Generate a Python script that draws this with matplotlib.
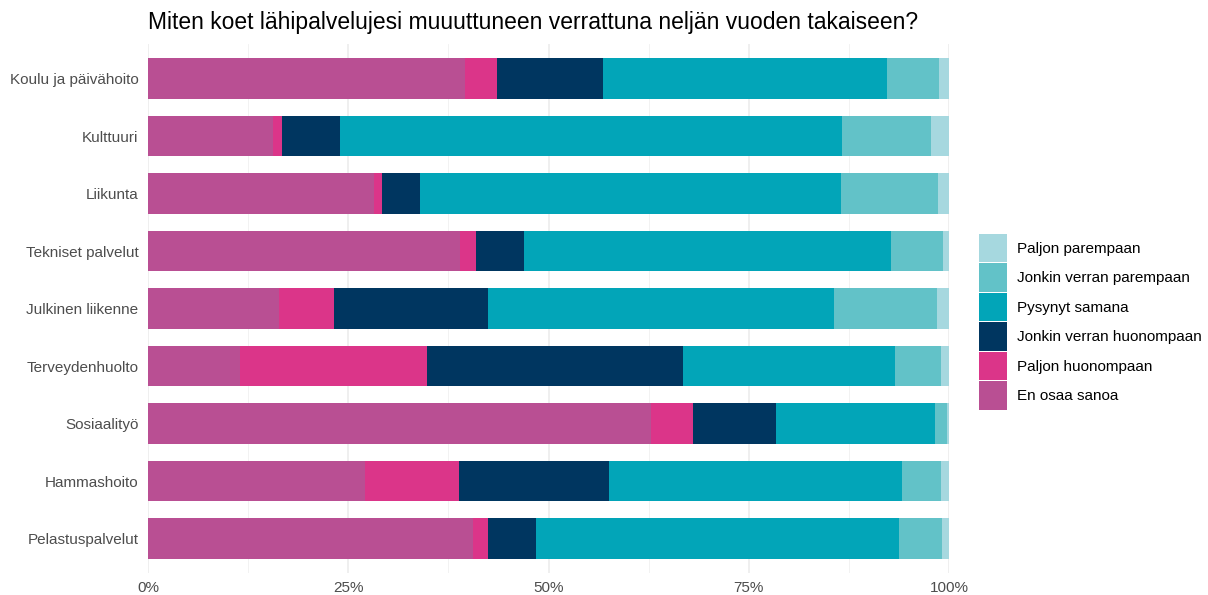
import numpy as np
import matplotlib
matplotlib.use("Agg")
import matplotlib.pyplot as plt
from matplotlib.patches import Patch

plt.rcParams['font.family'] = ['Liberation Sans', 'DejaVu Sans']

categories = ["Koulu ja päivähoito", "Kulttuuri", "Liikunta", "Tekniset palvelut",
              "Julkinen liikenne", "Terveydenhuolto", "Sosiaalityö", "Hammashoito",
              "Pelastuspalvelut"]

# stacked left to right
responses = ["En osaa sanoa", "Paljon huonompaan", "Jonkin verran huonompaan",
             "Pysynyt samana", "Jonkin verran parempaan", "Paljon parempaan"]

en_osaa = [39.6, 15.6, 28.2, 38.9, 16.4, 11.5, 62.8, 27.1, 40.6]
paljon_huon = [4.0, 1.1, 1.0, 2.0, 6.8, 23.3, 5.2, 11.7, 1.8]
jonkin_huon = [13.2, 7.3, 4.7, 6.0, 19.2, 32.0, 10.4, 18.7, 6.1]
pysynyt = [35.5, 62.6, 52.6, 45.8, 43.3, 26.5, 19.8, 36.6, 45.3]
jonkin_par = [6.5, 11.2, 12.1, 6.5, 12.8, 5.7, 1.5, 4.9, 5.3]
paljon_par = [1.2, 2.2, 1.4, 0.8, 1.5, 1.0, 0.3, 1.0, 0.9]

colors = ["#B94F93", "#DB3589", "#003660", "#02A5B8", "#62C2C8", "#A6D8DF"]

series = [en_osaa, paljon_huon, jonkin_huon, pysynyt, jonkin_par, paljon_par]

fig = plt.figure(figsize=(12.08, 5.95), dpi=100)
ax = fig.add_axes([148 / 1208, 1 - 573 / 595, (949 - 148) / 1208, (573 - 44) / 595])

y = np.arange(len(categories))
left = np.zeros(len(categories))
for vals, col in zip(series, colors):
    vals = np.array(vals)
    ax.barh(y, vals, left=left, height=0.71, color=col, linewidth=0, zorder=2)
    left += vals

ax.set_xlim(0, 100)
ax.set_ylim(len(categories) - 0.4, -0.6)
ax.set_yticks(y)
ax.set_yticklabels(categories)
ax.set_xticks([0, 25, 50, 75, 100])
ax.set_xticklabels(["0%", "25%", "50%", "75%", "100%"])
ax.set_xticks([12.5, 37.5, 62.5, 87.5], minor=True)
ax.tick_params(axis='both', which='both', length=0, labelsize=11, colors="#4D4D4D")
ax.tick_params(axis='y', pad=7)
ax.tick_params(axis='x', pad=6)
ax.grid(axis='x', which='major', color="#EBEBEB", linewidth=1.1, zorder=0)
ax.grid(axis='x', which='minor', color="#F0F0F0", linewidth=0.6, zorder=0)
ax.set_axisbelow(True)
for s in ax.spines.values():
    s.set_visible(False)

fig.text(148 / 1208, 1 - 22 / 595, "Miten koet lähipalvelujesi muuuttuneen verrattuna neljän vuoden takaiseen?",
         fontsize=16.5, color="black", va='center', ha='left')

handles = [Patch(facecolor=c, edgecolor='none', label=r)
           for r, c in zip(responses, colors)]
handles = handles[::-1]
fig.legend(handles=handles, loc='upper left', bbox_to_anchor=(979 / 1208, 1 - 234 / 595),
           frameon=False, fontsize=11, handlelength=1.83, handleheight=2.49,
           labelspacing=0.065, handletextpad=0.65, borderpad=0, borderaxespad=0)

fig.savefig("out.png", dpi=100)
